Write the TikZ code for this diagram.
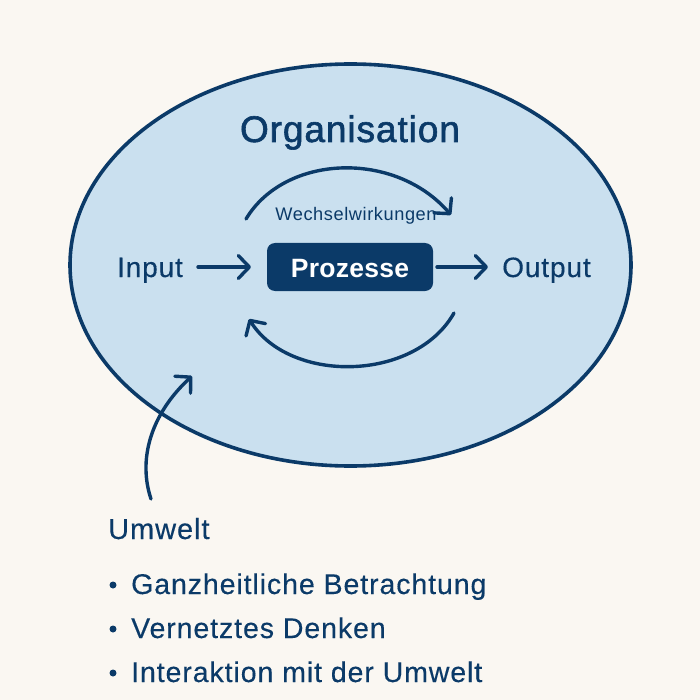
\documentclass[tikz,border=0pt]{standalone}
\usepackage{fontspec}
\setmainfont{Liberation Sans}
\newfontfamily\spaced[LetterSpace=3.2]{Liberation Sans}
\newfontfamily\spacedbold[LetterSpace=1.0,BoldFont={Liberation Sans Bold}]{Liberation Sans}
\newfontfamily\titlefont[LetterSpace=2.5,FakeBold=1.6]{Liberation Sans}
\newfontfamily\bodyfont[LetterSpace=3.2,FakeBold=0.3]{Liberation Sans}
\usetikzlibrary{arrows.meta,shapes.geometric}
\definecolor{navy}{HTML}{0B3A68}
\definecolor{paper}{HTML}{FAF7F2}
\definecolor{fillblue}{HTML}{CAE0EF}
\tikzset{
  x=1pt,y=-1pt,
  conn/.style={draw=navy,line width=3.4pt,line cap=round,line join=round,
    -{Straight Barb[length=11pt,width=23pt,line width=3.4pt,round]}},
  lbl/.style={text=navy,inner sep=0pt,font=\bodyfont\fontsize{28}{30}\selectfont},
  item/.style={text=navy,inner sep=0pt,anchor=base west,font=\bodyfont\fontsize{28.5}{30}\selectfont},
  dotm/.style={circle,fill=navy,inner sep=0pt,minimum size=7pt},
}
\begin{document}
\begin{tikzpicture}
\useasboundingbox (0,0) rectangle (700,700);
\fill[paper] (0,0) rectangle (700,700);
\node[ellipse,draw=navy,fill=fillblue,line width=3.6pt,minimum width=561pt,minimum height=402pt,inner sep=0pt] (org) at (350.5,265) {};
\node[text=navy,inner sep=0pt,anchor=base,font=\titlefont\fontsize{37}{40}\selectfont] (title) at (350,142) {Organisation};
\node[lbl,anchor=base] (input) at (150,277) {Input};
\node[lbl,anchor=base] (output) at (546.5,277) {Output};
\node[fill=navy,rounded corners=8pt,minimum width=166pt,minimum height=48pt,inner sep=0pt] (proc) at (350,267) {};
\node[text=white,inner sep=0pt,anchor=base,font=\spacedbold\bfseries\fontsize{26.5}{30}\selectfont] (ptext) at (350,277) {Prozesse};
\node[text=navy,inner sep=0pt,anchor=base,font=\spaced\fontsize{18.2}{20}\selectfont] (ww) at (356,221) {Wechselwirkungen};
\coordinate (a1) at (198,267);
\coordinate (a2) at (251,267);
\coordinate (b1) at (437,267);
\coordinate (b2) at (488,267);
\coordinate (t1) at (246,219);
\coordinate (t2) at (451,215);
\coordinate (u1) at (454,313);
\coordinate (u2) at (249,319);
\coordinate (e1) at (151,499);
\coordinate (e2) at (192,376);
\draw[conn] (a1) -- (a2);
\draw[conn] (b1) -- (b2);
\draw[conn] (t1) .. controls (285,154) and (395,150) .. (t2);
\draw[conn] (u1) .. controls (415,382) and (290,384) .. (u2);
\draw[conn] (e1) .. controls (138,460) and (150,415) .. (e2);
\node[lbl,anchor=base west,font=\bodyfont\fontsize{29}{30}\selectfont] (umw) at (108,539) {Umwelt};
\node[item] (i1) at (131,594) {Ganzheitliche Betrachtung};
\node[item] (i2) at (131,638) {Vernetztes Denken};
\node[item] (i3) at (131,682) {Interaktion mit der Umwelt};
\node[dotm] (d1) at (113,585) {};
\node[dotm] (d2) at (113,629) {};
\node[dotm] (d3) at (113,673) {};
\end{tikzpicture}
\end{document}
